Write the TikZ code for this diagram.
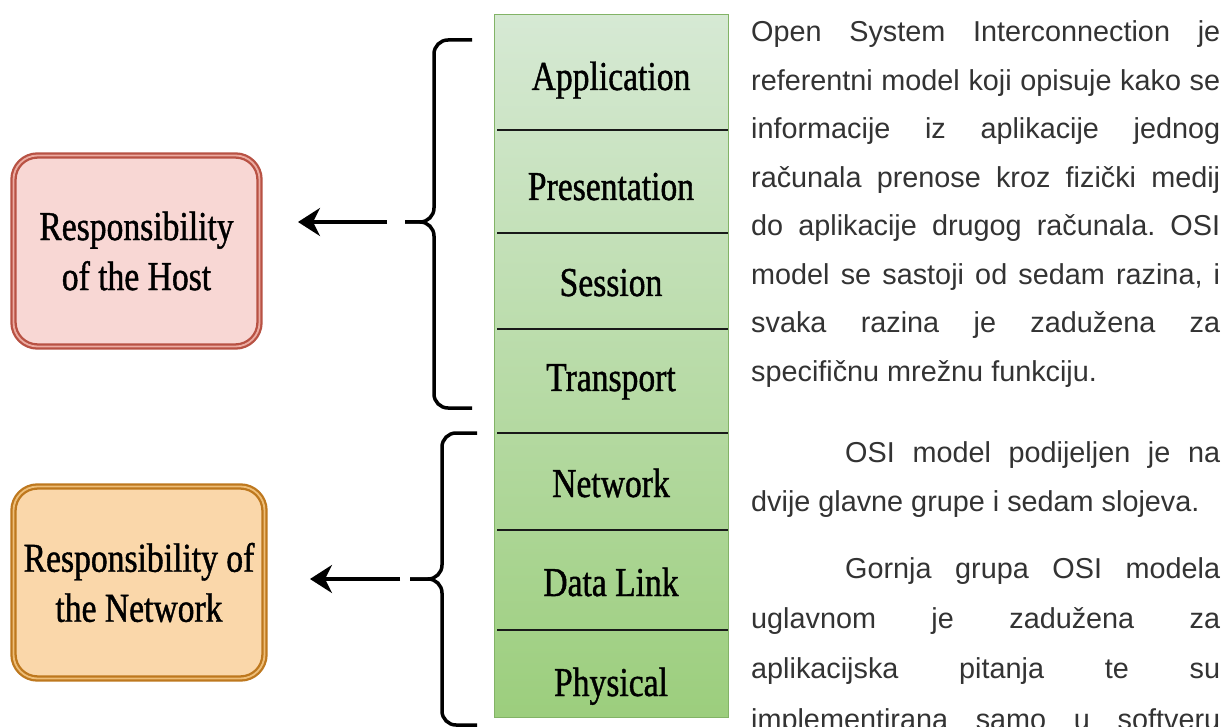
\documentclass[tikz,border=0pt]{standalone}
\usepackage{fontspec}
\setmainfont{Liberation Serif}
\newfontfamily\narrowserif[FakeStretch=0.82,FakeBold=1]{Liberation Serif}
\newfontfamily\arialf{Liberation Sans}
\usetikzlibrary{arrows.meta}
\frenchspacing
\definecolor{hostfill}{RGB}{248,215,212}
\definecolor{hostline}{RGB}{184,82,68}
\definecolor{hostinner}{RGB}{236,172,162}
\definecolor{netfill}{RGB}{250,215,170}
\definecolor{netline}{RGB}{190,120,30}
\definecolor{netinner}{RGB}{238,190,120}
\definecolor{gtop}{RGB}{214,233,212}
\definecolor{gbot}{RGB}{156,206,125}
\definecolor{gline}{RGB}{130,179,102}
\definecolor{txt}{RGB}{51,51,51}
\newcommand{\jline}[2]{\makebox[#1][s]{#2}}
\tikzset{
  resbox/.style={rounded corners=24pt, line width=2.3pt, double distance=1.8pt,
    inner sep=0pt, outer sep=0pt, align=center,
    font={\narrowserif\fontsize{41}{50}\selectfont}},
  hostbox/.style={resbox, draw=hostline, double=hostinner, fill=hostfill},
  netbox/.style={resbox, draw=netline, double=netinner, fill=netfill},
  layerlabel/.style={anchor=base, inner sep=0pt, font={\narrowserif\fontsize{41}{41}\selectfont}},
  divider/.style={line width=2.3pt, black!90},
  bracepath/.style={line width=3.5pt, rounded corners=14pt, line cap=butt},
  bigarrow/.style={line width=3.5pt, -{Stealth[length=22pt,width=28pt,inset=7pt]}},
  para/.style={anchor=base west, inner sep=0pt, text=txt, font={\arialf\fontsize{28.8}{34}\selectfont}}
}
\begin{document}
\begin{tikzpicture}[x=1pt,y=-1pt]
\clip (0,0) rectangle (1232,727);
\fill[white] (0,0) rectangle (1232,727);

% left boxes
\node[hostbox, minimum width=246pt, minimum height=191pt] (host) at (136.5,251) {Responsibility\\of the Host};
\node[netbox, minimum width=251pt, minimum height=192pt] (net) at (139,582.5) {Responsibility of\\the Network};

% stack
\shade[top color=gtop, bottom color=gbot, draw=gline, line width=1pt] (494,15) rectangle (728,717);
\coordinate (d1l) at (497,130); \coordinate (d1r) at (728,130);
\coordinate (d2l) at (497,233); \coordinate (d2r) at (728,233);
\coordinate (d3l) at (497,329); \coordinate (d3r) at (728,329);
\coordinate (d4l) at (497,433); \coordinate (d4r) at (728,433);
\coordinate (d5l) at (497,530); \coordinate (d5r) at (728,530);
\coordinate (d6l) at (497,630); \coordinate (d6r) at (728,630);
\foreach \i in {1,...,6} \draw[divider] (d\i l) -- (d\i r);

\node[layerlabel] (app) at (611,90) {Application};
\node[layerlabel] (pres) at (611,200) {Presentation};
\node[layerlabel] (sess) at (611,296) {Session};
\node[layerlabel] (trans) at (611,391) {Transport};
\node[layerlabel] (netw) at (611,497) {Network};
\node[layerlabel] (dl) at (611,596) {Data Link};
\node[layerlabel] (phy) at (611,696) {Physical};

% braces
\coordinate (b1t) at (472,40); \coordinate (b1m) at (405,222); \coordinate (b1b) at (472,408);
\draw[bracepath] (b1t) -- (434,40) -- (434,222) -- (b1m);
\draw[bracepath] (b1m) -- (434,222) -- (434,408) -- (b1b);
\coordinate (b2t) at (477,433); \coordinate (b2m) at (410,579); \coordinate (b2b) at (477,725);
\draw[bracepath] (b2t) -- (442,433) -- (442,579) -- (b2m);
\draw[bracepath] (b2m) -- (442,579) -- (442,725) -- (b2b);

% arrows
\coordinate (a1s) at (387,222); \coordinate (a1e) at (298,222);
\coordinate (a2s) at (400,579); \coordinate (a2e) at (310,579);
\draw[bigarrow] (a1s) -- (a1e);
\draw[bigarrow] (a2s) -- (a2e);

% paragraph text
\node[para] (l1) at (751,42) {\jline{469pt}{Open System Interconnection je}};
\node[para] (l2) at (751,90.5) {\jline{469pt}{referentni model koji opisuje kako se}};
\node[para] (l3) at (751,139) {\jline{469pt}{informacije iz aplikacije jednog}};
\node[para] (l4) at (751,187.5) {\jline{469pt}{računala prenose kroz fizički medij}};
\node[para] (l5) at (751,236) {\jline{469pt}{do aplikacije drugog računala. OSI}};
\node[para] (l6) at (751,284.5) {\jline{469pt}{model se sastoji od sedam razina, i}};
\node[para] (l7) at (751,333) {\jline{469pt}{svaka razina je zadužena za}};
\node[para] (l8) at (751,381.5) {specifičnu mrežnu funkciju.};
\node[para] (m1) at (845,462) {\jline{375pt}{OSI model podijeljen je na}};
\node[para] (m2) at (751,511) {dvije glavne grupe i sedam slojeva.};
\node[para] (n1) at (845,578) {\jline{375pt}{Gornja grupa OSI modela}};
\node[para] (n2) at (751,628) {\jline{469pt}{uglavnom je zadužena za}};
\node[para] (n3) at (751,678) {\jline{469pt}{aplikacijska pitanja te su}};
\node[para] (n4) at (751,729) {\jline{469pt}{implementirana samo u softveru}};
\end{tikzpicture}
\end{document}
